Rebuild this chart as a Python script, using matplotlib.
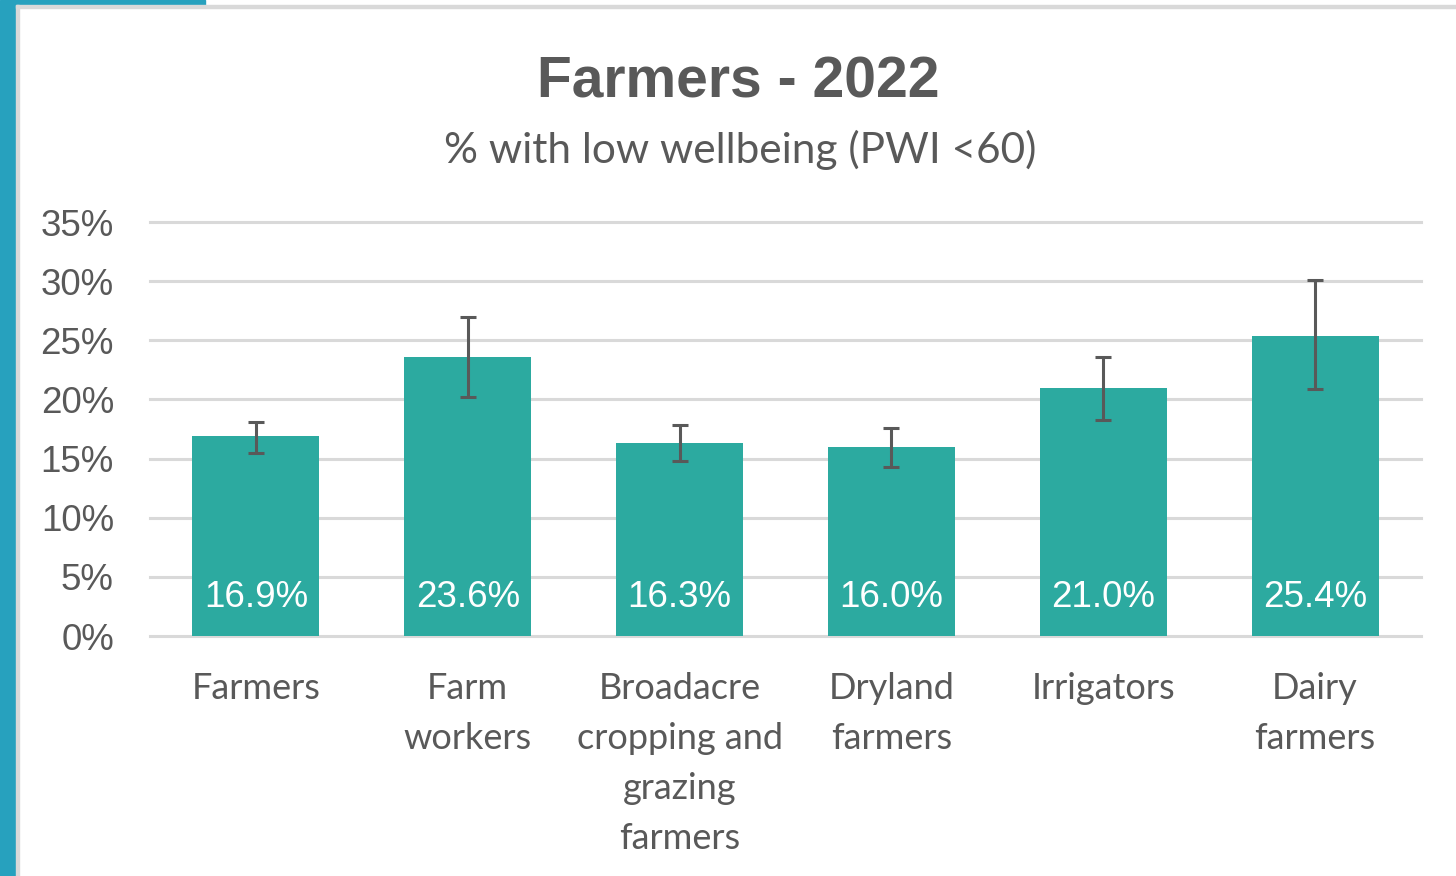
import numpy as np
import matplotlib
matplotlib.use("Agg")
import matplotlib.pyplot as plt
from matplotlib.patches import Rectangle

categories = ["Farmers", "Farm\nworkers", "Broadacre\ncropping and\ngrazing\nfarmers",
              "Dryland\nfarmers", "Irrigators", "Dairy\nfarmers"]
values = [16.9, 23.6, 16.3, 16.0, 21.0, 25.4]
err_low = [15.5, 20.2, 14.8, 14.3, 18.3, 20.9]
err_high = [18.1, 27.0, 17.8, 17.6, 23.6, 30.1]
yticks = [0, 5, 10, 15, 20, 25, 30, 35]

BAR = "#2CAAA0"
GREY = "#595959"
GRID = "#D9D9D9"
SIDE = "#27A1BE"

fig = plt.figure(figsize=(14.56, 8.76), dpi=100)
W, H = 1456, 876

# frame decorations
fig.patches.append(Rectangle((0, 0), 16 / W, 1, transform=fig.transFigure, color=SIDE, zorder=0))
fig.patches.append(Rectangle((16 / W, 1 - 5 / H), 189 / W, 5 / H, transform=fig.transFigure, color=SIDE, zorder=0))
fig.patches.append(Rectangle((16 / W, 1 - 8 / H), 1 - 16 / W, 3 / H, transform=fig.transFigure, color=GRID, zorder=0))
fig.patches.append(Rectangle((16 / W, 0), 3 / W, 1 - 5 / H, transform=fig.transFigure, color=GRID, zorder=0))

ax = fig.add_axes([150 / W, 1 - 636 / H, 1271 / W, 414 / H])
x = np.arange(len(categories))
vals = np.array(values)
yerr = np.array([vals - np.array(err_low), np.array(err_high) - vals])
ax.bar(x, vals, width=0.6, color=BAR, zorder=2)
ax.errorbar(x, vals, yerr=yerr, fmt="none", ecolor=GREY, elinewidth=2.2,
            capsize=6, capthick=2.2, zorder=3)

for xi, v in zip(x, values):
    ax.annotate(f"{v:.1f}%", xy=(xi, 0), xytext=(0, 28), textcoords="offset points",
                ha="center", va="center", color="white", fontsize=26.5,
                family="Liberation Sans", zorder=4)

ax.set_xlim(-0.5, len(categories) - 0.5)
ax.set_ylim(0, 35)
ax.set_yticks(yticks)
ax.set_yticklabels([f"{t}%" for t in yticks], fontsize=26.5, color=GREY, family="Liberation Sans")
ax.set_xticks(x)
ax.set_xticklabels(categories, fontsize=26, color=GREY, family="Lato", linespacing=1.63)
ax.tick_params(axis="y", length=0, pad=26)
ax.tick_params(axis="x", length=0, pad=26)
for s in ax.spines.values():
    s.set_visible(False)
ax.yaxis.grid(True, color=GRID, linewidth=2.2, zorder=0)
ax.set_axisbelow(True)
for gl in ax.yaxis.get_gridlines():
    gl.set_clip_on(False)

fig.text(738 / W, 1 - 97 / H, "Farmers - 2022", ha="center", va="baseline",
         fontsize=41, fontweight="bold", color=GREY,
         family=["Liberation Sans Narrow", "Liberation Sans"])
fig.text(740 / W, 1 - 163 / H, "% with low wellbeing (PWI <60)", ha="center", va="baseline",
         fontsize=30.5, color=GREY, family="Lato")

fig.savefig("out.png", dpi=100)
